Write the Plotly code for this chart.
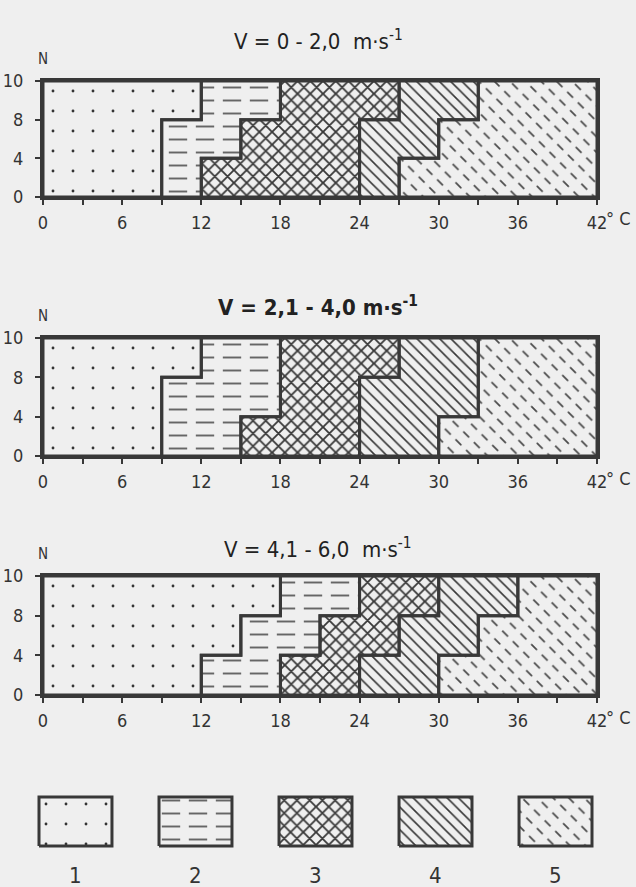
import plotly.graph_objects as go

# ---------------- data ----------------
n_levels = ["0", "4", "8", "10"]            # N levels (band edges, bottom -> top)
temp_ticks = [0, 6, 12, 18, 24, 30, 36, 42]  # labelled °C ticks
temp_labels = ["0", "6", "12", "18", "24", "30", "36", "42"]
temp_minor_step = 3
zone_labels = ["1", "2", "3", "4", "5"]
panel_titles = [
    "V = 0 - 2,0  m·s<sup>-1</sup>",
    "<b>V = 2,1 - 4,0 m·s<sup>-1</sup></b>",
    "V = 4,1 - 6,0  m·s<sup>-1</sup>",
]
t_min, t_max = 0, 42

# zone boundaries (°C) for bands N 0-4, 4-8, 8-10
p1_b12 = [9, 9, 12];   p1_b23 = [12, 15, 18]; p1_b34 = [24, 24, 27]; p1_b45 = [27, 30, 33]
p2_b12 = [9, 9, 12];   p2_b23 = [15, 18, 18]; p2_b34 = [24, 24, 27]; p2_b45 = [30, 33, 33]
p3_b12 = [12, 15, 18]; p3_b23 = [18, 21, 24]; p3_b34 = [24, 27, 30]; p3_b45 = [30, 33, 36]

panels = [
    [p1_b12, p1_b23, p1_b34, p1_b45],
    [p2_b12, p2_b23, p2_b34, p2_b45],
    [p3_b12, p3_b23, p3_b34, p3_b45],
]

# ---------------- styles ----------------
BG = "#efefef"
INK = "#383838"
FONT = "DejaVu Sans Condensed, Roboto, DejaVu Sans, sans-serif"

zone_patterns = [
    [dict(shape=".", size=20, solidity=0.016, fgcolor="#333")],
    [dict(shape="-", size=13, solidity=0.15, fgcolor="#666"),
     dict(shape="|", size=27, solidity=0.32, fgcolor=BG)],
    [dict(shape="x", size=9, solidity=0.36, fgcolor=INK)],
    [dict(shape="\\", size=8, solidity=0.2, fgcolor=INK)],
    [dict(shape="\\", size=11, solidity=0.16, fgcolor="#4a4a4a"),
     dict(shape="/", size=15, solidity=0.45, fgcolor=BG)],
]

W, H = 636, 887
def py(px):
    return 1 - px / H

x_dom = [43 / W, 597 / W]
panel_px = [(81, 197), (338, 456), (576, 695)]
title_px = [40, 306, 548]


def zone_polygon(left, right):
    xs, ys = [], []
    for i in range(3):
        xs += [right[i], right[i]]
        ys += [n_levels[i], n_levels[i + 1]]
    for i in reversed(range(3)):
        xs += [left[i], left[i]]
        ys += [n_levels[i + 1], n_levels[i]]
    xs.append(xs[0]); ys.append(ys[0])
    return xs, ys


fig = go.Figure()
annotations = []

for p, bounds in enumerate(panels):
    ax = "" if p == 0 else str(p + 1)
    xref, yref = "x" + ax, "y" + ax
    edges = [[t_min] * 3] + bounds + [[t_max] * 3]
    polys = [zone_polygon(edges[k], edges[k + 1]) for k in range(5)]
    for k, (xs, ys) in enumerate(polys):
        for pat in zone_patterns[k]:
            fig.add_trace(go.Scatter(
                x=xs, y=ys, xaxis=xref, yaxis=yref, mode="lines",
                line=dict(width=0), fill="toself", fillcolor="rgba(0,0,0,0)",
                fillpattern=dict(**pat, bgcolor="rgba(0,0,0,0)", fillmode="replace"),
                hoverinfo="skip", showlegend=False))
    for xs, ys in polys:
        fig.add_trace(go.Scatter(
            x=xs, y=ys, xaxis=xref, yaxis=yref, mode="lines",
            line=dict(width=3, color=INK), hoverinfo="skip", showlegend=False))

    top, bot = panel_px[p]
    fig.layout["xaxis" + ax] = dict(
        domain=x_dom, anchor=yref, range=[t_min, t_max], tickmode="array",
        tickvals=temp_ticks, ticktext=temp_labels, ticks="outside", ticklen=5,
        tickwidth=2, tickcolor=INK,
        minor=dict(tick0=t_min, dtick=temp_minor_step, ticks="outside", ticklen=5,
                   tickwidth=2, tickcolor=INK, showgrid=False),
        showline=True, linewidth=3, linecolor=INK,
        mirror=True, showgrid=False, zeroline=False, ticklabelstandoff=2,
        automargin=False, tickfont=dict(size=18, color="#333", family=FONT),
        fixedrange=True)
    fig.layout["yaxis" + ax] = dict(
        domain=[py(bot), py(top)], anchor=xref, type="category",
        categoryorder="array", categoryarray=n_levels, range=[0, 3],
        ticks="outside", ticklen=5, tickwidth=2, tickcolor=INK, showline=True,
        linewidth=3, linecolor=INK, mirror=True, showgrid=False, zeroline=False,
        ticklabelstandoff=8, automargin=False,
        tickfont=dict(size=18, color="#333", family=FONT), fixedrange=True)
    annotations.append(dict(text=panel_titles[p], x=0.5, y=py(title_px[p]),
                            xref="paper", yref="paper", showarrow=False,
                            xanchor="center", yanchor="middle",
                            font=dict(size=22, color="#222", family=FONT)))
    annotations.append(dict(text="N", x=x_dom[0], y=py(top - 22), xref="paper",
                            yref="paper", showarrow=False, xanchor="center",
                            yanchor="middle",
                            font=dict(size=15, color="#333", family=FONT)))
    annotations.append(dict(text="° C", x=t_max, y=py(bot + 22), xref=xref,
                            yref="paper", showarrow=False, xanchor="left",
                            yanchor="middle", xshift=7,
                            font=dict(size=18, color="#333", family=FONT)))

# ---------------- key (legend boxes) ----------------
slot, box_w = 1.0, 0.608
pad_x, pad_y = 0.025, 0.061
for i, lab in enumerate(zone_labels):
    x0, x1 = i * slot, i * slot + box_w
    bx = [x0, x1, x1, x0, x0]
    byy = [0, 0, 1, 1, 0]
    for pat in zone_patterns[i]:
        fig.add_trace(go.Scatter(
            x=bx, y=byy, xaxis="x4", yaxis="y4", mode="lines", line=dict(width=0),
            fill="toself", fillcolor="rgba(0,0,0,0)",
            fillpattern=dict(**pat, bgcolor="rgba(0,0,0,0)", fillmode="replace"),
            hoverinfo="skip", showlegend=False))
    fig.add_trace(go.Scatter(
        x=bx, y=byy, xaxis="x4", yaxis="y4", mode="lines",
        line=dict(width=3, color=INK), hoverinfo="skip", showlegend=False))
    annotations.append(dict(text=lab, x=(x0 + x1) / 2, y=py(875), xref="x4",
                            yref="paper", showarrow=False, xanchor="center",
                            yanchor="middle",
                            font=dict(size=22, color="#333", family=FONT)))

fig.layout["xaxis4"] = dict(domain=[36 / W, 595 / W], anchor="y4", automargin=False,
                            range=[-pad_x, 4 * slot + box_w + pad_x], visible=False,
                            fixedrange=True)
fig.layout["yaxis4"] = dict(domain=[py(849), py(794)], anchor="x4",
                            range=[-pad_y, 1 + pad_y], automargin=False,
                            visible=False, fixedrange=True)

fig.update_layout(width=W, height=H, margin=dict(l=0, r=0, t=0, b=0, pad=0,
                                                 autoexpand=False),
                  paper_bgcolor=BG, plot_bgcolor=BG, showlegend=False,
                  annotations=annotations, font=dict(family=FONT))

fig.write_html("out.html", config={"displayModeBar": False})
